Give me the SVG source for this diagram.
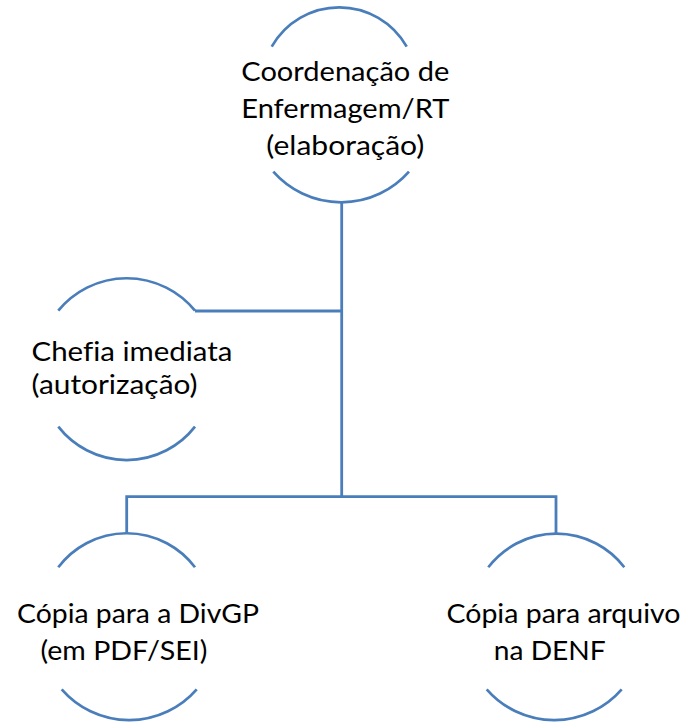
<svg xmlns="http://www.w3.org/2000/svg" width="687" height="722" viewBox="0 0 687 722">
<style>
.arc{fill:none;stroke:#4a7ebb;stroke-width:2.7}
.con{fill:none;stroke:#4a7ebb;stroke-width:2.8}
text{font-family:Lato,"Liberation Sans",sans-serif;font-size:27.5px;fill:#000;font-variant-ligatures:none}
</style>
<rect width="687" height="722" fill="#fff"/>
<g id="connectors">
<path class="con" d="M341.7,202.3 V496.7"/>
<path class="con" d="M195,311 H341.7"/>
<path class="con" d="M126.7,533.3 V496.7 H556 V533.3"/>
</g>
<g id="node-coordenacao">
<path class="arc" d="M271.7,46.7 A77.5,77.5 0 0 1 406.7,46.7"/>
<path class="arc" d="M273.3,171.7 A90.4,90.4 0 0 0 409,171.7"/>
<text x="345.3" y="81" text-anchor="middle" textLength="208" lengthAdjust="spacingAndGlyphs">Coordenação de</text>
<text x="345.3" y="118" text-anchor="middle" textLength="208" lengthAdjust="spacingAndGlyphs">Enfermagem/RT</text>
<text x="345.3" y="154.5" text-anchor="middle" textLength="158" lengthAdjust="spacingAndGlyphs">(elaboração)</text>
</g>
<g id="node-chefia">
<path class="arc" d="M58.3,310.7 A88.2,88.2 0 0 1 195,310.7"/>
<path class="arc" d="M58.3,426.7 A86.7,86.7 0 0 0 195,426.7"/>
<text x="31.5" y="360.5" textLength="201" lengthAdjust="spacingAndGlyphs">Chefia imediata</text>
<text x="31.5" y="394" textLength="166" lengthAdjust="spacingAndGlyphs">(autorização)</text>
</g>
<g id="node-divgp">
<path class="arc" d="M58.3,567.3 A85.6,85.6 0 0 1 195,567.3"/>
<path class="arc" d="M61.7,689.3 A89.5,89.5 0 0 0 196.7,689.3"/>
<text x="17" y="623.3" textLength="242" lengthAdjust="spacingAndGlyphs">Cópia para a DivGP</text>
<text x="40.5" y="660" textLength="167" lengthAdjust="spacingAndGlyphs">(em PDF/SEI)</text>
</g>
<g id="node-arquivo">
<path class="arc" d="M488.3,567.3 A85.6,85.6 0 0 1 624.3,567.3"/>
<path class="arc" d="M486.7,689.3 A89.5,89.5 0 0 0 621.7,689.3"/>
<text x="446.5" y="623.3" textLength="234" lengthAdjust="spacingAndGlyphs">Cópia para arquivo</text>
<text x="493.8" y="660" textLength="112" lengthAdjust="spacingAndGlyphs">na DENF</text>
</g>
</svg>
